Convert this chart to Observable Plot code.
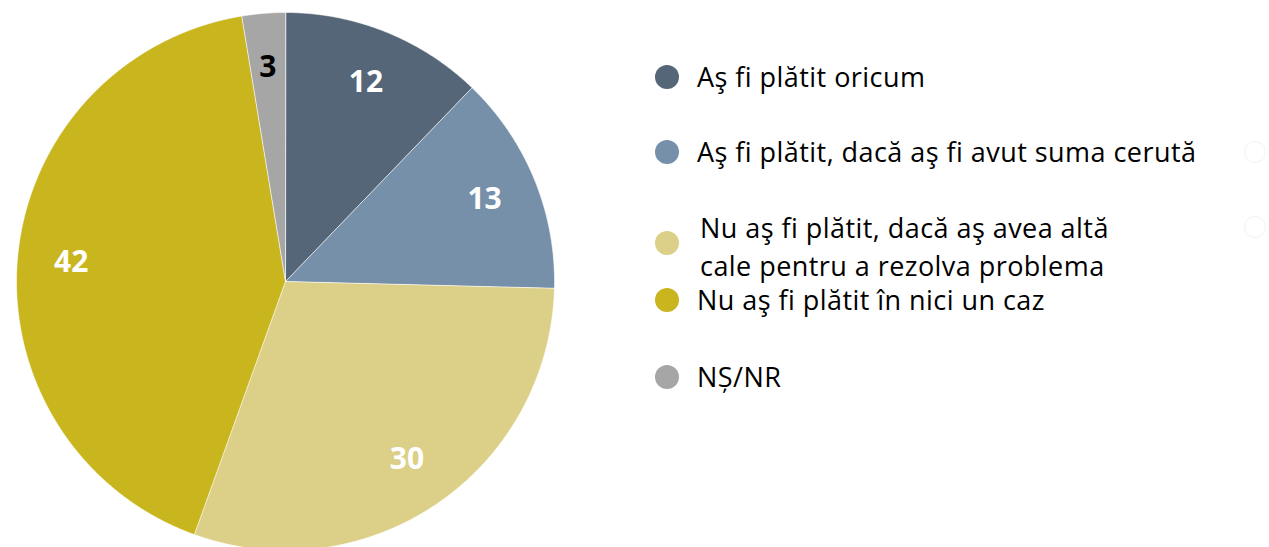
<!DOCTYPE html>
<html><head><meta charset="utf-8">
<script src="https://cdn.jsdelivr.net/npm/d3@7"></script>
<script src="https://cdn.jsdelivr.net/npm/@observablehq/plot@0.6"></script>
<style>
body{margin:0;background:#fff;}
#wrap{position:relative;width:1269px;height:547px;overflow:hidden;font-family:"Open Sans",Lato,sans-serif;}
#wrap svg{position:absolute;left:0;top:0;}
.sw{position:absolute;width:24px;height:24px;border-radius:50%;}
.lt{position:absolute;font-size:27px;letter-spacing:0.45px;color:#000;line-height:38px;white-space:nowrap;}
.ghost{position:absolute;width:20px;height:20px;border-radius:50%;border:1.5px solid #f3f3f3;}
</style>
</head><body><div id="wrap"></div>
<script>
const categories = ["Aş fi plătit oricum", "Aş fi plătit, dacă aş fi avut suma cerută", "Nu aş fi plătit, dacă aş avea altă cale pentru a rezolva problema", "Nu aş fi plătit în nici un caz", "NȘ/NR"];
const legendLines = [["Aş fi plătit oricum"], ["Aş fi plătit, dacă aş fi avut suma cerută"], ["Nu aş fi plătit, dacă aş avea altă", "cale pentru a rezolva problema"], ["Nu aş fi plătit în nici un caz"], ["NȘ/NR"]];
// slice sizes; labels are the rounded percentages shown
const values = [12.2, 13.2, 30.1, 41.9, 2.6];
const labelsText = ["12", "13", "30", "42", "3"];
const colors = ["#546677", "#7590a8", "#dccf87", "#c9b61f", "#a6a6a6"];
const labelColors = ["#ffffff", "#ffffff", "#ffffff", "#ffffff", "#000000"];

const arcs = d3.pie().sort(null).value(d => d.value)(categories.map((c, i) => ({cat: c, value: values[i], label: labelsText[i], lc: labelColors[i]})));
const pts = [];
for (const a of arcs) {
  pts.push({cat: a.data.cat, x: 0, y: 0});
  const n = Math.max(2, Math.ceil((a.endAngle - a.startAngle) / 0.005));
  for (let k = 0; k <= n; k++) {
    const t = a.startAngle + (a.endAngle - a.startAngle) * k / n;
    pts.push({cat: a.data.cat, x: Math.sin(t), y: Math.cos(t)});
  }
}
const labels = arcs.map(a => {
  const m = (a.startAngle + a.endAngle) / 2;
  return {cat: a.data.cat, label: a.data.label, lc: a.data.lc, x: 0.8 * Math.sin(m), y: 0.8 * Math.cos(m)};
});

const chart = Plot.plot({
  width: 1269, height: 547,
  marginTop: 0, marginRight: 0, marginBottom: 0, marginLeft: 0,
  x: {domain: [-1, 1], range: [16, 554], axis: null},
  y: {domain: [-1, 1], range: [550, 12], axis: null},
  color: {domain: categories, range: colors},
  marks: [
    Plot.line(pts, {x: "x", y: "y", z: "cat", fill: "cat", stroke: "#ffffff", strokeWidth: 1, strokeOpacity: 0.6, curve: "linear-closed"}),
    Plot.text(labels, {x: "x", y: "y", text: "label", fill: "lc", fontSize: 30, fontWeight: "bold", fontFamily: "'Open Sans', Lato, sans-serif"})
  ]
});
const wrap = document.getElementById("wrap");
wrap.appendChild(chart);

// legend
const legTop = [77, 152, 243, 300, 377];
const textTops = [[77], [152], [228, 266], [300], [377]];
const textLeft = [697, 697, 700, 697, 697];
categories.forEach((c, i) => {
  const sw = document.createElement("div");
  sw.className = "sw";
  sw.style.background = colors[i];
  sw.style.left = (667 - 12) + "px";
  sw.style.top = (legTop[i] - 12) + "px";
  wrap.appendChild(sw);
  legendLines[i].forEach((line, j) => {
    const t = document.createElement("div");
    t.className = "lt";
    t.textContent = line;
    t.style.left = textLeft[i] + "px";
    t.style.top = (textTops[i][j] - 19) + "px";
    wrap.appendChild(t);
  });
});
[152, 227].forEach(y => {
  const g = document.createElement("div");
  g.className = "ghost";
  g.style.left = (1255 - 11) + "px";
  g.style.top = (y - 11) + "px";
  wrap.appendChild(g);
});
</script>
</body></html>
